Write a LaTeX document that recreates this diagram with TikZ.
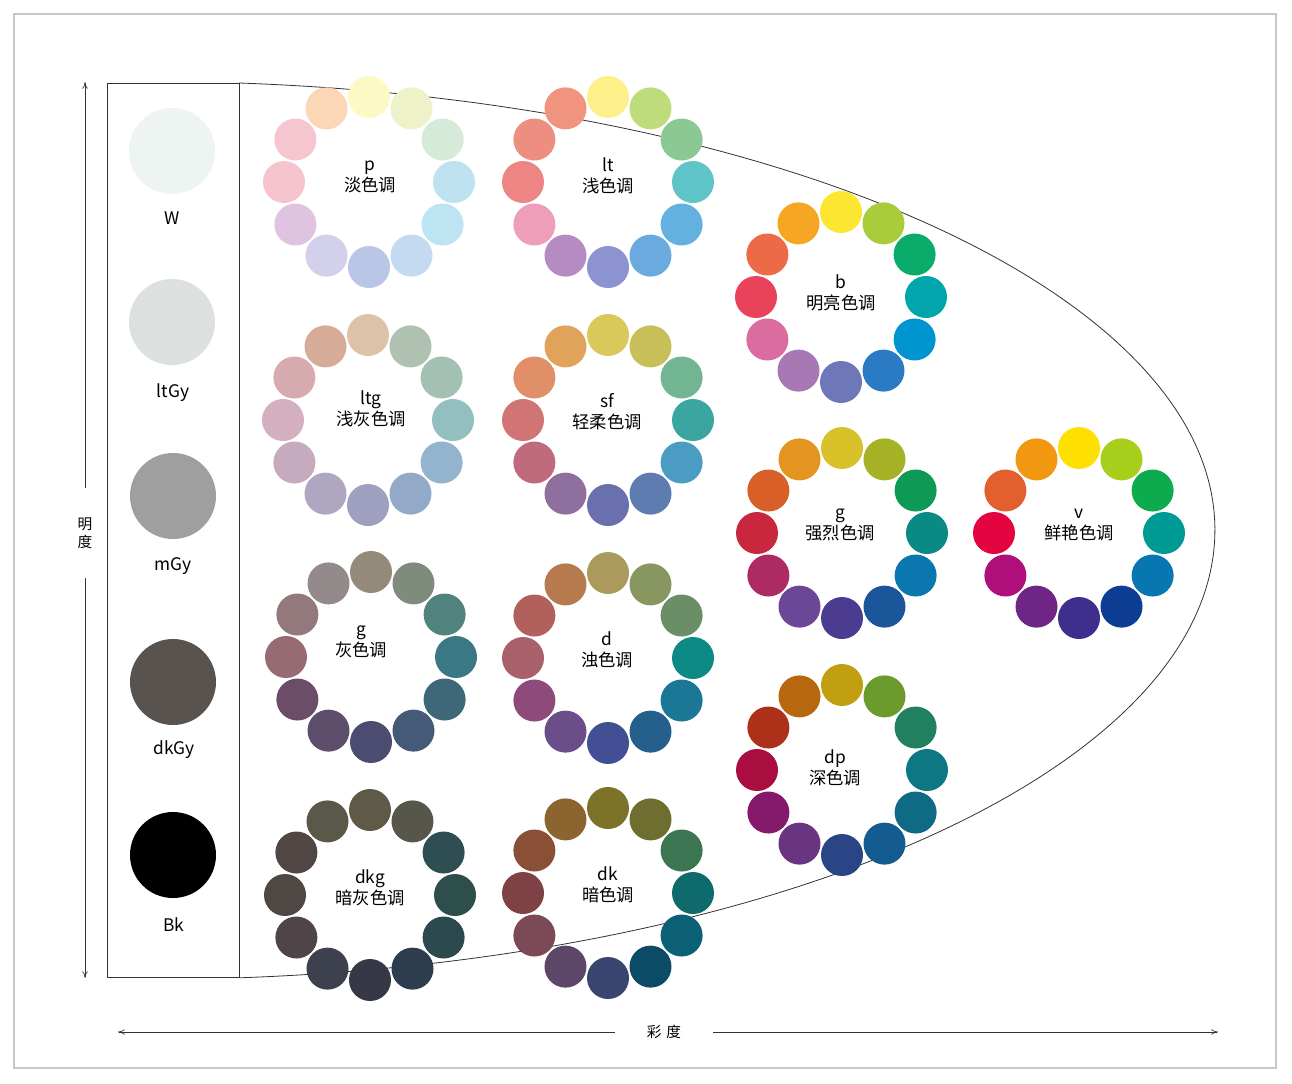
\documentclass[tikz,border=0pt]{standalone}
\usepackage{fontspec}
\newfontfamily\cjk{Noto Sans CJK SC}
\usetikzlibrary{arrows.meta}

% one tone: ring of twelve hue dots, clockwise from yellow at the top
\newcommand\tonering[6]{%
  \foreach \col [count=\k from 0] in {#6} {
    \definecolor{ringfill}{HTML}{\col}
    \fill[ringfill] ({#2+85*cos(90-30*\k)},{#3-85*sin(90-30*\k)}) circle[radius=21];
  }
  \node[tonelabel] (#1) at (#4) {#5};
}

\begin{document}
\begin{tikzpicture}[x=0.75pt, y=-0.75pt,
  tonelabel/.style={font=\cjk\fontsize{13}{15.5}\selectfont, align=center, inner sep=1pt},
  greylabel/.style={font=\cjk\fontsize{13}{15.5}\selectfont, inner sep=1pt},
  axislabel/.style={font=\cjk\fontsize{11}{13.5}\selectfont, align=center, fill=white},
  axis/.style={line width=0.5pt, draw=black!80, -{To[length=5pt, width=4pt]}}]
  \useasboundingbox (0,0) rectangle (1292,1083);
  \fill[white] (0,0) rectangle (1292,1083);
  \draw[black!22, line width=0.8pt] (14,14) rectangle (1276,1068);

  % achromatic column and the half ellipse of tones
  \draw[black!80, line width=0.7pt] (107,83) rectangle (239,977);
  \draw[black!80, line width=0.6pt] (239,83) arc[start angle=-85.2, end angle=85.2, x radius=1065, y radius=449];

  % greys
  \definecolor{whiteg}{HTML}{EEF4F2}
  \definecolor{ltgy}{HTML}{DCE1DF}
  \definecolor{mgy}{HTML}{9E9F9E}
  \definecolor{dkgy}{HTML}{58534F}
  \fill[whiteg] (172,151) circle[radius=43];
  \node[greylabel] (w) at (172,218) {W};
  \fill[ltgy] (172,322) circle[radius=43];
  \node[greylabel] (ltgylab) at (173,393) {ltGy};
  \fill[mgy] (173,496) circle[radius=43];
  \node[greylabel] (mgylab) at (173,566) {mGy};
  \fill[dkgy] (173,682) circle[radius=43];
  \node[greylabel] (dkgylab) at (174,750) {dkGy};
  \fill[black] (173,855) circle[radius=43];
  \node[greylabel] (bklab) at (174,925) {Bk};

  % chromatic tones
  \tonering{p}{369}{182}{370,177}{p\\淡色调}
    {FDF9C4,EEF2C8,D6EADA,BEE2F0,BDE4F3,C4DAF1,BAC6E5,D2D0EA,DFC3E0,F6C4CC,F6C6D0,FCD7B5}
  \tonering{lt}{608}{182}{608,176}{lt\\浅色调}
    {FDF08A,BEDC7C,8AC994,5FC4C8,63B1DE,6AAADE,8D92D0,B68AC2,EE9EB8,EE8585,EE8E80,F0937F}
  \tonering{b}{841}{297}{841,293}{b\\明亮色调}
    {FCE631,A9CC3B,0AAB6B,00A6AB,0094D0,2A7BC4,6E78B8,A778B4,DB6CA0,E8435A,EC6A45,F5A623}
  \tonering{ltg}{368}{420}{371,409}{ltg\\浅灰色调}
    {DDC2AA,AFC2B2,A2C1B2,94BFC0,93B3CE,92AAC8,9FA0C0,AFA6C2,C6ABBF,D4AFC0,D6ABB0,D6AC98}
  \tonering{sf}{608}{420}{607,412}{sf\\轻柔色调}
    {D8C95A,C9BF58,72B592,3BA6A0,4A9CC3,5E7CB0,6A70AE,8E6F9E,C06A7D,D07475,E08F68,E0A35C}
  \tonering{gs}{842}{533}{840,525}{g\\强烈色调}
    {D9C12A,A5B225,0E9A55,0B8985,0A78AE,1B559A,4B3B91,6C4797,AD2A63,C8283E,D86028,E3951F}
  \tonering{v}{1079}{533}{1079,525}{v\\鲜艳色调}
    {FEE000,A6CE1A,0EAA4E,009A95,0876B0,0D3E94,3E2F8F,6E2585,B00E7A,E4043F,E3602E,F29710}
  \tonering{gg}{371}{657}{361,642}{g\\灰色调}
    {938A79,7F8B7C,50827E,3A7886,3E6878,455A76,4B4C70,5D4E6C,6B4D67,976B74,93787C,938B8B}
  \tonering{d}{608}{658}{607,650}{d\\浊色调}
    {AA9A5E,889660,6A8F66,0E8A85,1B7795,255F8B,434F94,6B4D8A,8E4A7A,A9606A,B2605C,B77A4F}
  \tonering{dp}{842}{770}{835,768}{dp\\深色调}
    {C19F10,6B9B2C,208060,0D7784,0F6A85,145C8F,2A4586,6A3580,861A6A,AA0D40,AD3018,B7680F}
  \tonering{dkg}{370}{895}{370,888}{dkg\\暗灰色调}
    {5E5A47,56564A,2E4E52,2D4E4B,2C4A4D,2E3D4E,363846,3D414D,4F4548,4E4744,504644,5A5849}
  \tonering{dk}{608}{893}{608,885}{dk\\暗色调}
    {7C7328,6E6E30,3B7552,0E6A6B,0C6076,0C4B68,3A4670,5C4769,7C4A56,7F4244,8A5035,8C6430}

  % axes
  \coordinate (vtop) at (85,82);
  \coordinate (vbot) at (85,978);
  \coordinate (hleft) at (118,1032);
  \coordinate (hright) at (1218,1032);
  \node[axislabel, inner xsep=2pt, inner ysep=22pt] (mingdu) at (85,533) {明\\度};
  \node[axislabel, inner xsep=24pt, inner ysep=2pt] (caidu) at (664,1032) {彩\,\,度};
  \draw[axis] (mingdu.north) -- (vtop);
  \draw[axis] (mingdu.south) -- (vbot);
  \draw[axis] (caidu.west) -- (hleft);
  \draw[axis] (caidu.east) -- (hright);
\end{tikzpicture}
\end{document}
